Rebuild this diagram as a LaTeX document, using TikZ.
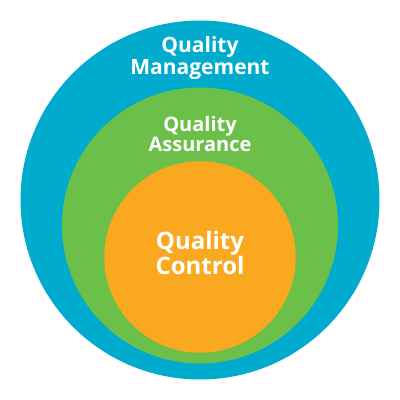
\documentclass[tikz,border=0pt]{standalone}
\usepackage{fontspec}
\setmainfont{Open Sans}
\definecolor{qmblue}{HTML}{00ABCE}
\definecolor{qagreen}{HTML}{6CC04A}
\definecolor{qcorange}{HTML}{F9A81F}
\begin{document}
\begin{tikzpicture}[x=1pt,y=1pt,
  ring/.style={circle,draw=none,inner sep=0pt,minimum size=#1},
  lbl/.style={text=white,align=center,inner sep=0pt,font=\bfseries\fontsize{21}{22}\selectfont}]
\useasboundingbox (0,0) rectangle (400,400);
\fill[white] (0,0) rectangle (400,400);
\node[ring=359pt,fill=qmblue] (qm) at (200,200) {};
\node[ring=276pt,fill=qagreen] (qa) at (200,174.5) {};
\node[ring=191.5pt,fill=qcorange] (qc) at (200,143) {};
\node[lbl] (tqm) at (200,341.5) {Quality\\Management};
\node[lbl,font=\bfseries\fontsize{20}{20}\selectfont] (tqa) at (200,266) {Quality\\Assurance};
\node[lbl,font=\bfseries\fontsize{24}{22.5}\selectfont] (tqc) at (200,146.5) {Quality\\Control};
\end{tikzpicture}
\end{document}
